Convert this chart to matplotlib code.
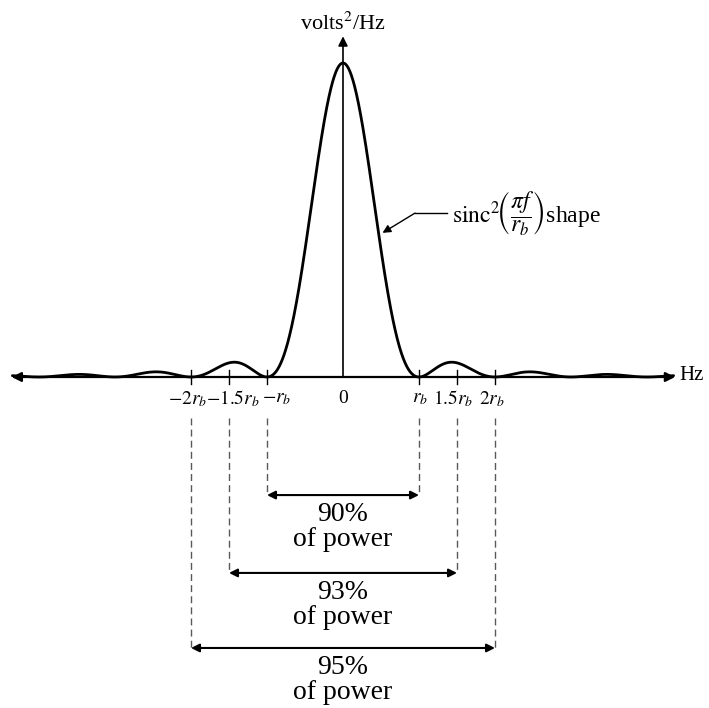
import numpy as np
import matplotlib
matplotlib.use("Agg")
import matplotlib.pyplot as plt

plt.rcParams['font.family'] = ['Liberation Serif', 'DejaVu Serif']
plt.rcParams['mathtext.fontset'] = 'stix'

# frequency axis in units of r_b, power normalised to the peak
f = np.linspace(-4.35, 4.35, 3000)
psd = np.sinc(f) ** 2          # sinc^2(pi f / r_b) shape

tick_pos = [-2, -1.5, -1, 0, 1, 1.5, 2]
tick_labels = [r'$-2r_b$', r'$-1.5r_b$', r'$-r_b$', '0', r'$r_b$', r'$1.5r_b$', r'$2r_b$']
label_shift = [-0.04, 0.05, 0.13, 0, 0.01, -0.05, -0.04]   # nudge so labels don't collide

band_edges = [1.0, 1.5, 2.0]     # half bandwidth in r_b
band_power = [90, 93, 95]        # percent of power inside
band_levels = [-0.376, -0.624, -0.863]

fig = plt.figure(figsize=(7.09, 7.08), dpi=100)
ax = fig.add_axes([0, 0, 1, 1])
ax.set_xlim(-343 / 76, (709 - 343) / 76)
ax.set_ylim((377 - 708) / 314, 377 / 314)
ax.axis('off')

# curve
ax.plot(f, psd, color='black', lw=2.0, solid_capstyle='round')

# horizontal axis with arrows both ends
ax.annotate('', xy=(4.37, 0), xytext=(-4.36, 0),
            arrowprops=dict(arrowstyle='<|-|>', color='black', lw=1.6,
                            mutation_scale=14, shrinkA=0, shrinkB=0))
ax.text(4.43, 0.005, 'Hz', fontsize=15, va='center', ha='left')

# vertical axis
ax.annotate('', xy=(0, 1.085), xytext=(0, 0),
            arrowprops=dict(arrowstyle='-|>', color='black', lw=1.2,
                            mutation_scale=14, shrinkA=0, shrinkB=0))
ax.text(0, 1.124, r'volts$^2$/Hz', fontsize=16, ha='center', va='center')

# ticks and labels
for p, lab, d in zip(tick_pos, tick_labels, label_shift):
    if p != 0:
        ax.plot([p, p], [-0.022, 0.022], color='black', lw=1.0)
    ax.text(p + d, -0.07, lab, fontsize=14, ha='center', va='center')

# sinc label with pointer
ax.plot([0.947, 1.37], [0.522, 0.522], color='black', lw=1.0)
ax.annotate('', xy=(0.52, 0.459), xytext=(0.947, 0.522),
            arrowprops=dict(arrowstyle='-|>', color='black', lw=1.0,
                            mutation_scale=12, shrinkA=0, shrinkB=0))
ax.text(1.44, 0.522, r'$\mathrm{sinc}^2\!\left(\dfrac{\pi f}{r_b}\right)$shape',
        fontsize=17, ha='left', va='center')

# bandwidth brackets
for e, pct, lev in zip(band_edges, band_power, band_levels):
    for s in (-1, 1):
        ax.plot([s * e, s * e], [-0.13, lev], color='0.35', lw=1.0,
                ls=(0, (5, 3)))
    ax.annotate('', xy=(e, lev), xytext=(-e, lev),
                arrowprops=dict(arrowstyle='<|-|>', color='black', lw=1.5,
                                mutation_scale=12, shrinkA=0, shrinkB=0))
    ax.text(0, lev - 0.062, f'{pct}%', fontsize=20, ha='center', va='center')
    ax.text(0, lev - 0.143, 'of power', fontsize=20, ha='center', va='center')

fig.savefig('out.png', dpi=100, facecolor='white')
